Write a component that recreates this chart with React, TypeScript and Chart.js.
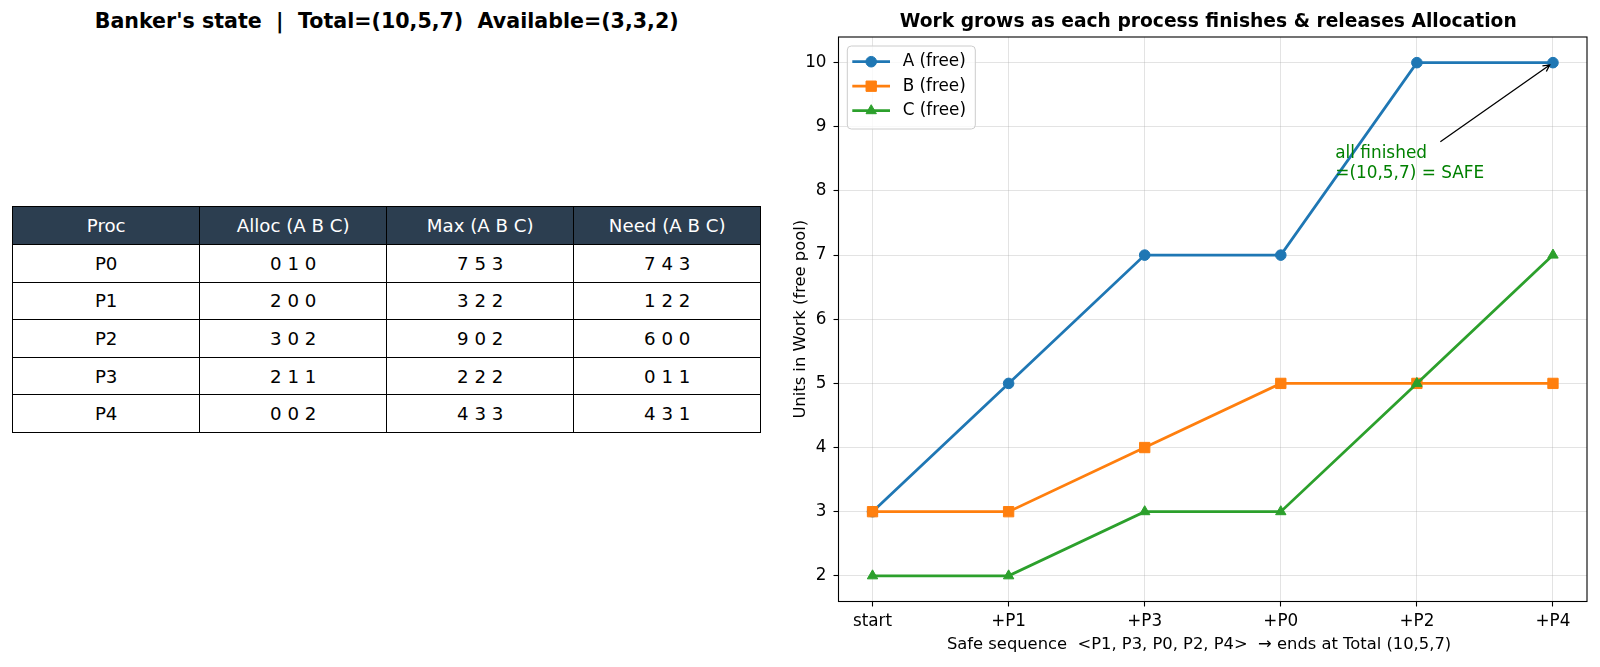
import React, { useEffect, useRef } from "react";
import { Chart, registerables } from "chart.js";

Chart.register(...registerables);

// Steps of the safe sequence (x axis) and the free pool after each step
const steps = ["start", "+P1", "+P3", "+P0", "+P2", "+P4"];
const workA = [3, 5, 7, 7, 10, 10];
const workB = [3, 3, 4, 5, 5, 5];
const workC = [2, 2, 3, 3, 5, 7];
const yTicks = [2, 3, 4, 5, 6, 7, 8, 9, 10];

// Banker's table
const tableHeader = ["Proc", "Alloc (A B C)", "Max (A B C)", "Need (A B C)"];
const procs = ["P0", "P1", "P2", "P3", "P4"];
const allocRows = [[0, 1, 0], [2, 0, 0], [3, 0, 2], [2, 1, 1], [0, 0, 2]];
const maxRows = [[7, 5, 3], [3, 2, 2], [9, 0, 2], [2, 2, 2], [4, 3, 3]];
const needRows = [[7, 4, 3], [1, 2, 2], [6, 0, 0], [0, 1, 1], [4, 3, 1]];

const leftTitle = "Banker's state  |  Total=(10,5,7)  Available=(3,3,2)";
const chartTitle = "Work grows as each process finishes & releases Allocation";
const xTitle = "Safe sequence  <P1, P3, P0, P2, P4>  \u2192 ends at Total (10,5,7)";
const yTitle = "Units in Work (free pool)";

const annotLines = ["all finished", "=(10,5,7) = SAFE"];
const annotTarget = { x: 5, y: 10 };
const annotTextAt = { x: 3.4, y: 8.43 };

const FONT = "'DejaVu Sans', 'Liberation Sans', sans-serif";
const TICK_SIZE = 16.8;
const LABEL_SIZE = 16.35;

const series = [
  { label: "A (free)", data: workA, color: "#1f77b4", marker: "circle", radius: 5.3 },
  { label: "B (free)", data: workB, color: "#ff7f0e", marker: "rect", radius: 7.3 },
  { label: "C (free)", data: workC, color: "#2ca02c", marker: "triangle", radius: 6 },
];

function drawMarker(ctx: CanvasRenderingContext2D, kind: string, r: number, x: number, y: number) {
  ctx.beginPath();
  if (kind === "circle") {
    ctx.arc(x, y, r, 0, Math.PI * 2);
  } else if (kind === "rect") {
    const s = Math.SQRT1_2 * r;
    ctx.rect(x - s, y - s, 2 * s, 2 * s);
  } else {
    const h = r;
    ctx.moveTo(x, y - h);
    ctx.lineTo(x + Math.sin((2 * Math.PI) / 3) * h, y + 0.5 * h);
    ctx.lineTo(x - Math.sin((2 * Math.PI) / 3) * h, y + 0.5 * h);
    ctx.closePath();
  }
  ctx.fill();
  ctx.stroke();
}

const framePlugin = {
  id: "frame",
  afterDatasetsDraw(chart: any) {
    const { ctx, chartArea: a } = chart;
    ctx.save();
    ctx.strokeStyle = "#000";
    ctx.lineWidth = 1.1;
    ctx.strokeRect(a.left, a.top, a.right - a.left, a.bottom - a.top);
    ctx.restore();
  },
};

// Panel title above the plot and the x-axis caption below the tick labels
const textPlugin = {
  id: "panelText",
  afterDraw(chart: any) {
    const { ctx, chartArea: a } = chart;
    const mid = (a.left + a.right) / 2;
    ctx.save();
    ctx.fillStyle = "#000";
    ctx.textAlign = "center";
    ctx.textBaseline = "middle";
    ctx.font = `bold 18.7px ${FONT}`;
    ctx.fillText(chartTitle, mid - 4.5, 21.7);
    ctx.font = `${LABEL_SIZE}px ${FONT}`;
    ctx.fillText(xTitle, mid - 13.7, 645);
    ctx.restore();
  },
};

const annotationPlugin = {
  id: "safeNote",
  afterDraw(chart: any) {
    const { ctx } = chart;
    const xs = chart.scales.x;
    const ys = chart.scales.y;
    const tx = xs.getPixelForValue(annotTextAt.x);
    const ty = ys.getPixelForValue(annotTextAt.y);
    const px = xs.getPixelForValue(annotTarget.x);
    const py = ys.getPixelForValue(annotTarget.y);
    const lineH = 20;
    ctx.save();
    ctx.font = `16.9px ${FONT}`;
    ctx.fillStyle = "#008000";
    ctx.textAlign = "left";
    ctx.textBaseline = "middle";
    let maxW = 0;
    annotLines.forEach((t, i) => {
      maxW = Math.max(maxW, ctx.measureText(t).width);
      ctx.fillText(t, tx, ty + (i - (annotLines.length - 1) / 2) * lineH);
    });
    // arrow from the text box towards the target point
    const cx = tx + maxW / 2;
    const cy = ty;
    const halfW = maxW / 2;
    const halfH = (annotLines.length * lineH) / 2;
    const dx = px - cx;
    const dy = py - cy;
    const len = Math.hypot(dx, dy);
    const ux = dx / len;
    const uy = dy / len;
    const tExit = Math.min(halfW / Math.abs(ux || 1e-9), halfH / Math.abs(uy || 1e-9));
    const sx = cx + ux * (tExit + 2.7);
    const sy = cy + uy * (tExit + 2.7);
    const ex = px - ux * 4;
    const ey = py - uy * 4;
    ctx.strokeStyle = "#000";
    ctx.lineWidth = 1.3;
    ctx.beginPath();
    ctx.moveTo(sx, sy);
    ctx.lineTo(ex, ey);
    const hl = 6.5;
    const hw = 3.4;
    ctx.moveTo(ex - ux * hl - uy * hw, ey - uy * hl + ux * hw);
    ctx.lineTo(ex, ey);
    ctx.lineTo(ex - ux * hl + uy * hw, ey - uy * hl - ux * hw);
    ctx.stroke();
    ctx.restore();
  },
};

const legendPlugin = {
  id: "lineLegend",
  afterDraw(chart: any) {
    const { ctx, chartArea: a } = chart;
    const x0 = a.left + 8.8;
    const y0 = a.top + 9;
    const w = 128;
    const h = 83;
    ctx.save();
    ctx.beginPath();
    ctx.roundRect(x0, y0, w, h, 4);
    ctx.fillStyle = "rgba(255,255,255,0.8)";
    ctx.fill();
    ctx.strokeStyle = "#cccccc";
    ctx.lineWidth = 1;
    ctx.stroke();
    ctx.font = `${TICK_SIZE}px ${FONT}`;
    ctx.textAlign = "left";
    ctx.textBaseline = "middle";
    series.forEach((s, i) => {
      const cy = y0 + 15.7 + i * 24.5;
      ctx.strokeStyle = s.color;
      ctx.lineWidth = 2.8;
      ctx.beginPath();
      ctx.moveTo(x0 + 5, cy);
      ctx.lineTo(x0 + 42.7, cy);
      ctx.stroke();
      ctx.fillStyle = s.color;
      ctx.lineWidth = 1;
      drawMarker(ctx, s.marker, s.radius, x0 + 23.9, cy);
      ctx.fillStyle = "#000";
      ctx.fillText(s.label, x0 + 55.4, cy);
    });
    ctx.restore();
  },
};

const gridOpts = {
  color: "rgba(176,176,176,0.35)",
  lineWidth: 1,
  tickColor: "#000",
  tickLength: 5,
  tickWidth: 1.1,
};

function buildConfig(): any {
  return {
    type: "line",
    data: {
      datasets: series.map((s, k) => ({
        label: s.label,
        data: s.data.map((v, i) => ({ x: i, y: v })),
        borderColor: s.color,
        backgroundColor: s.color,
        borderWidth: 2.8,
        pointStyle: s.marker,
        pointRadius: s.radius,
        pointHoverRadius: s.radius,
        pointBorderWidth: 1,
        pointBackgroundColor: s.color,
        pointBorderColor: s.color,
        tension: 0,
        fill: false,
        order: series.length - k,
      })),
    },
    options: {
      responsive: false,
      animation: false,
      events: [],
      layout: { padding: { top: 37, right: 13, left: 0, bottom: 0 } },
      plugins: {
        legend: { display: false },
        tooltip: { enabled: false },
        title: { display: false },
      },
      scales: {
        x: {
          type: "linear",
          min: -0.25,
          max: 5.25,
          afterBuildTicks: (s: any) => {
            s.ticks = steps.map((_, i) => ({ value: i }));
          },
          afterFit: (s: any) => {
            s.height = 65.5;
          },
          ticks: {
            callback: (v: number) => steps[v] ?? "",
            autoSkip: false,
            maxRotation: 0,
            padding: 5.2,
            color: "#000",
            font: { family: FONT, size: TICK_SIZE, lineHeight: 1.2 },
          },
          grid: gridOpts,
          border: { display: false },
          title: { display: false },
        },
        y: {
          type: "linear",
          min: 1.6,
          max: 10.4,
          afterBuildTicks: (s: any) => {
            s.ticks = yTicks.map((v) => ({ value: v }));
          },
          afterFit: (s: any) => {
            s.width = 78.5;
          },
          ticks: {
            padding: 7,
            color: "#000",
            font: { family: FONT, size: TICK_SIZE, lineHeight: 1.2 },
          },
          grid: gridOpts,
          border: { display: false },
          title: {
            display: true,
            text: yTitle,
            color: "#000",
            font: { family: FONT, size: LABEL_SIZE, lineHeight: 1.2 },
            padding: { top: 31.2, bottom: 0 },
          },
        },
      },
    },
    plugins: [framePlugin, textPlugin, legendPlugin, annotationPlugin],
  };
}

const cellBase: React.CSSProperties = {
  border: "1.5px solid #000",
  padding: 0,
  textAlign: "center",
  verticalAlign: "middle",
  fontSize: 18.2,
  fontWeight: "normal",
  whiteSpace: "pre",
};

export default function App() {
  const canvasRef = useRef<HTMLCanvasElement>(null);

  useEffect(() => {
    const chart = new Chart(canvasRef.current as HTMLCanvasElement, buildConfig());
    return () => chart.destroy();
  }, []);

  return (
    <div
      style={{
        position: "absolute",
        left: 0,
        top: 0,
        width: 1600,
        height: 667,
        background: "#fff",
        fontFamily: FONT,
        overflow: "hidden",
      }}
    >
      <div
        style={{
          position: "absolute",
          left: 12.2,
          top: 9.4,
          width: 749,
          textAlign: "center",
          fontWeight: "bold",
          fontSize: 20.6,
          lineHeight: "24px",
          whiteSpace: "pre",
          color: "#000",
        }}
      >
        {leftTitle}
      </div>
      <table
        style={{
          position: "absolute",
          left: 12.2,
          top: 206,
          width: 749,
          borderCollapse: "collapse",
          tableLayout: "fixed",
        }}
      >
        <tbody>
          <tr style={{ height: 38 }}>
            {tableHeader.map((h) => (
              <th key={h} style={{ ...cellBase, background: "#2c3e50", color: "#fff" }}>
                {h}
              </th>
            ))}
          </tr>
          {procs.map((p, i) => (
            <tr key={p} style={{ height: 37.6 }}>
              <td style={{ ...cellBase, color: "#000" }}>{p}</td>
              <td style={{ ...cellBase, color: "#000" }}>{allocRows[i].join(" ")}</td>
              <td style={{ ...cellBase, color: "#000" }}>{maxRows[i].join(" ")}</td>
              <td style={{ ...cellBase, color: "#000" }}>{needRows[i].join(" ")}</td>
            </tr>
          ))}
        </tbody>
      </table>
      <div style={{ position: "absolute", left: 760, top: 0, width: 840, height: 667 }}>
        <canvas ref={canvasRef} width={840} height={667} style={{ width: 840, height: 667, display: "block" }} />
      </div>
    </div>
  );
}
